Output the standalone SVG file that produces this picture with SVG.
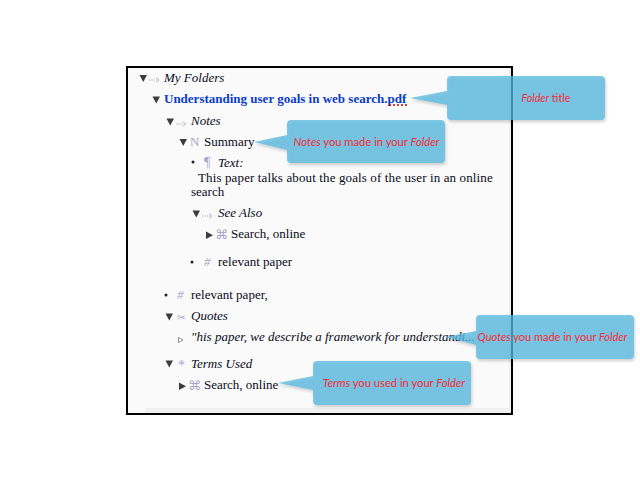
<svg xmlns="http://www.w3.org/2000/svg" width="640" height="480" viewBox="0 0 640 480">
<defs>
<style>
text{font-family:"Liberation Serif","Times New Roman",serif;font-size:13px;fill:#0a0a20}
.i{font-style:italic}
.t{fill:#3c3c3c}
.g{fill:#a9a5c8}
.c{font-family:Lato,"Noto Sans",sans-serif;font-size:11.2px;fill:#fa2a35;text-anchor:middle}
.co{fill:#55b8e0;fill-opacity:.74;filter:url(#s)}
.a{fill:none;stroke:#b5b2d0;stroke-width:1}
.d{stroke-dasharray:1.500 1}
</style>
<filter id="s" x="-10%" y="-20%" width="120%" height="140%"><feDropShadow dx="1" dy="2" stdDeviation="1.5" flood-color="#000" flood-opacity=".25"/></filter>
<g id="arr"><path class="a d" d="M0 0h7"/><path class="a" d="M7 -2l3 2-3 2"/></g>
</defs>
<rect width="640" height="480" fill="#fff"/>
<rect id="frame" x="127" y="67" width="385" height="347" fill="#fafafa" stroke="#000" stroke-width="2"/>
<rect x="145" y="408" width="366" height="5" fill="#f0f0f0"/>
<rect x="509" y="68" width="2" height="340" fill="#eeeeee"/>
<g id="connectors">
<path class="t" d="M139.500 75h7.500l-3.750 7zM152.500 96.500h7.500l-3.750 7zM166.500 118.500h7.500l-3.750 7zM179.500 139h7.500l-3.750 7zM192.500 210.500h7.500l-3.750 7zM165.500 313.500h7.500l-3.750 7zM165.500 360.500h7.500l-3.750 7zM206 231.500l7 3.750-7 3.750zM179 382.500l7 3.750-7 3.750z"/>
<path fill="none" stroke="#777" stroke-width=".8" d="M178.500 337.500l4.500 2.500-4.500 2.500z"/>
</g>
<g id="my-folders"><use href="#arr" x="149" y="80"/><text class="i" x="164" y="82">My Folders</text></g>
<g id="title"><text x="164" y="103" style="font-weight:bold;fill:#0a3cc8">Understanding user goals in web search.pdf</text><path d="M389 105h18" stroke="#d00000" stroke-width="1.500" stroke-dasharray="2 2"/></g>
<g id="notes"><use href="#arr" x="176" y="124"/><text class="i" x="191" y="125">Notes</text></g>
<g id="summary"><text class="g" x="190" y="146" style="font-size:13px">N</text><text x="204" y="146">Summary</text></g>
<g id="text-item"><circle cx="193" cy="162" r="1.500" fill="#222"/><text class="g" x="204" y="167" style="font-size:14px">&#182;</text><text class="i" x="218" y="167">Text:</text>
<text x="198" y="182" style="letter-spacing:.125px">This paper talks about the goals of the user in an online</text><text x="191" y="196">search</text></g>
<g id="see-also"><use href="#arr" x="202" y="216"/><text class="i" x="218" y="217">See Also</text></g>
<g id="search1"><text class="g" x="215" y="239" style="font-family:'DejaVu Sans',sans-serif;font-size:13px">&#8984;</text><text x="231" y="238">Search, online</text></g>
<g id="relevant1"><circle cx="192" cy="262" r="1.500" fill="#222"/><text class="g" x="204" y="266" style="font-style:italic">#</text><text x="218" y="266">relevant paper</text></g>
<g id="relevant2"><circle cx="166" cy="295" r="1.500" fill="#222"/><text class="g" x="177" y="299" style="font-style:italic">#</text><text x="191" y="299">relevant paper,</text></g>
<g id="quotes"><text class="g" x="177" y="321" style="font-family:'DejaVu Sans',sans-serif;font-size:10px">&#9986;</text><text class="i" x="191" y="320">Quotes</text></g>
<g id="quote"><text class="i" x="191" y="341">"his paper, we describe a framework for understandi...</text></g>
<g id="terms"><text class="g" x="178" y="370" style="font-size:14px">*</text><text class="i" x="191" y="368">Terms Used</text></g>
<g id="search2"><text class="g" x="188" y="390" style="font-family:'DejaVu Sans',sans-serif;font-size:13px">&#8984;</text><text x="204" y="389">Search, online</text></g>
<g id="callout-title"><path class="co" d="M451 76h150q4 0 4 4v36q0 4-4 4H451q-4 0-4-4v-11l-37-7 37-7V80q0-4 4-4z"/><text class="c" x="546" y="102" style="font-size:10.7px"><tspan class="i">Folder</tspan> title</text></g>
<g id="callout-notes"><path class="co" d="M291 120h150q4 0 4 4v35q0 4-4 4H291q-4 0-4-4v-9l-33-8 33-7v-11q0-4 4-4z"/><text class="c" x="366.500" y="146"><tspan class="i">Notes</tspan> you made in your <tspan class="i">Folder</tspan></text></g>
<g id="callout-quotes"><path class="co" d="M480 315h150q4 0 4 4v36q0 4-4 4H480q-4 0-4-4v-10l-31-8 31-6v-12q0-4 4-4z"/><text class="c" x="552.500" y="341" style="font-size:11px"><tspan class="i">Quotes</tspan> you made in your <tspan class="i">Folder</tspan></text></g>
<g id="callout-terms"><path class="co" d="M317 361h150q4 0 4 4v36q0 4-4 4H317q-4 0-4-4v-11l-35-7 35-7v-11q0-4 4-4z"/><text class="c" x="394" y="387"><tspan class="i">Terms</tspan> you used in your <tspan class="i">Folder</tspan></text></g>
</svg>
